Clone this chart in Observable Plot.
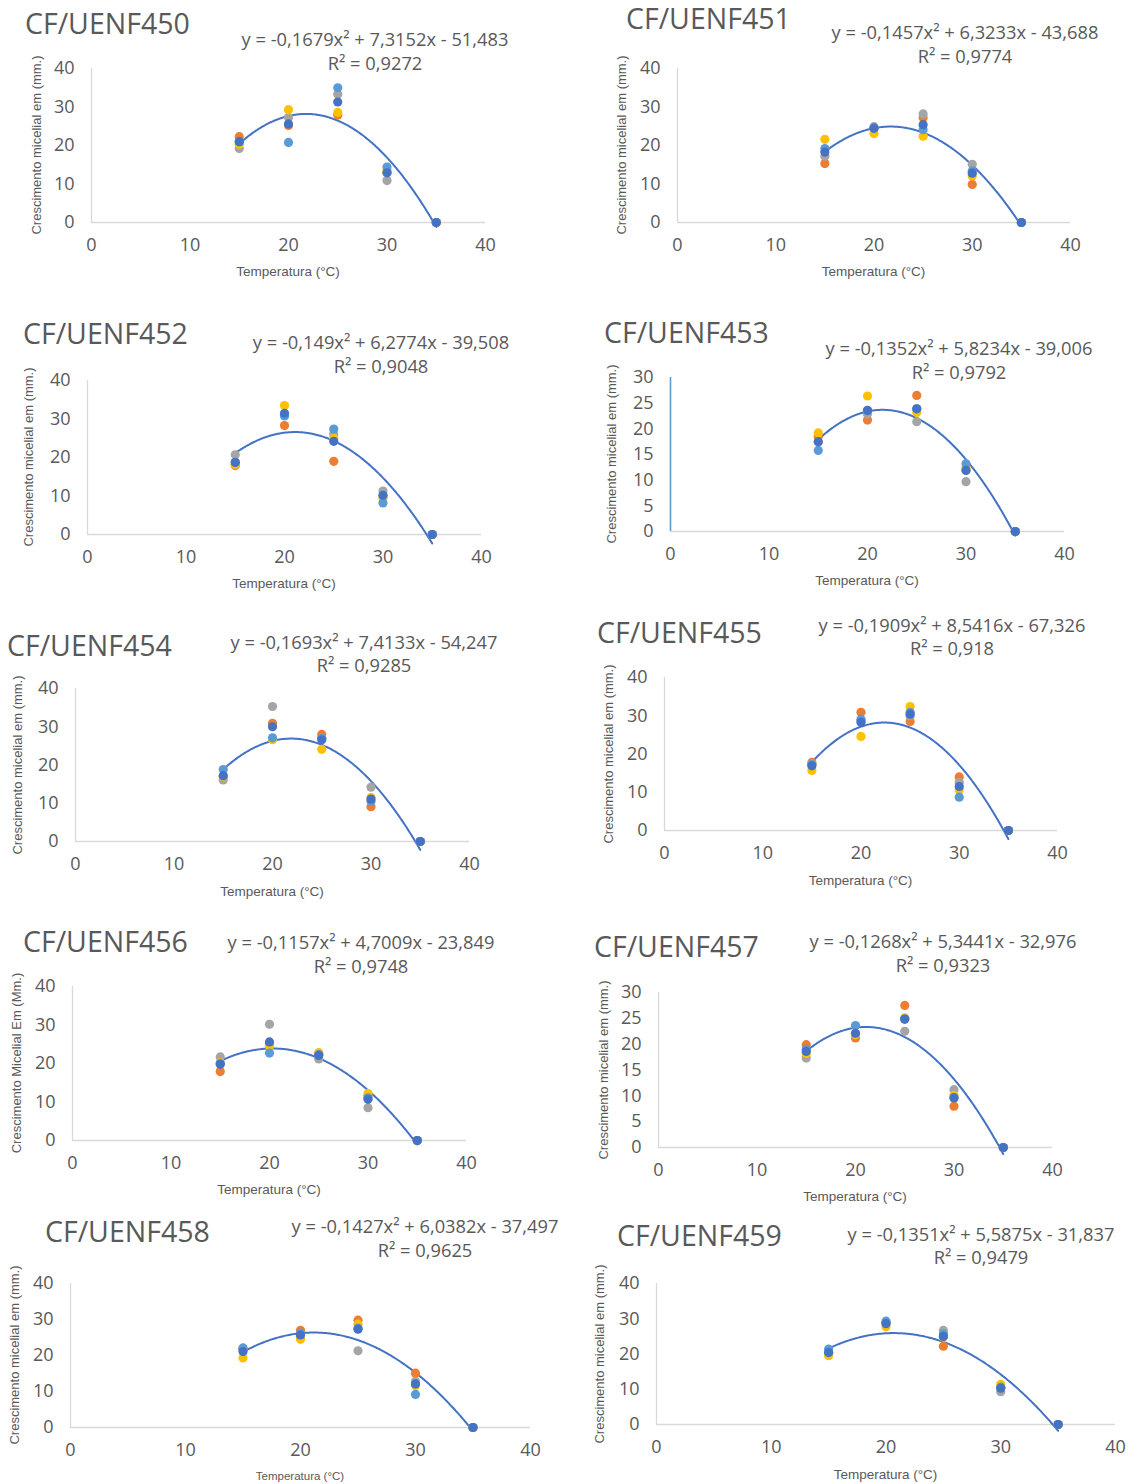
<!DOCTYPE html>
<html><head><meta charset="utf-8">
<script src="https://cdn.jsdelivr.net/npm/d3@7"></script>
<script src="https://cdn.jsdelivr.net/npm/@observablehq/plot@0.6"></script>
<style>
body{margin:0;background:#fff;}
#root{position:relative;width:1138px;height:1484px;overflow:hidden;background:#fff;}
.t{position:absolute;white-space:nowrap;color:#595959;line-height:1.25;}
.title{font-family:"Open Sans";font-size:28.5px;line-height:1;transform:translateY(-50%);}
.eq{font-family:"Open Sans";font-size:18.3px;transform:translate(-50%,-50%);}
.ylab{font-family:"Liberation Sans";font-size:13px;transform:translate(-50%,-50%) rotate(-90deg);}
.xlab{font-family:"Liberation Sans";font-size:13.5px;transform:translate(-50%,-50%);}
#root svg{position:absolute;overflow:visible;}
</style></head><body><div id="root"></div>
<script>
// ---- data ----
const temps = [15, 20, 25, 30, 35];
const seriesColors = ["#ED7D31", "#A5A5A5", "#FFC000", "#5B9BD5", "#4472C4"]; // drawn bottom -> top
const strains = ["CF/UENF450","CF/UENF451","CF/UENF452","CF/UENF453","CF/UENF454","CF/UENF455","CF/UENF456","CF/UENF457","CF/UENF458","CF/UENF459"];
const yMax = [40, 40, 40, 30, 40, 40, 40, 30, 40, 40];
const xTicks = [0, 10, 20, 30, 40];
const yTicks40 = [0, 10, 20, 30, 40];
const yTicks30 = [0, 5, 10, 15, 20, 25, 30];
const coefA = [-0.1679, -0.1457, -0.149, -0.1352, -0.1693, -0.1909, -0.1157, -0.1268, -0.1427, -0.1351];
const coefB = [7.3152, 6.3233, 6.2774, 5.8234, 7.4133, 8.5416, 4.7009, 5.3441, 6.0382, 5.5875];
const coefC = [-51.483, -43.688, -39.508, -39.006, -54.247, -67.326, -23.849, -32.976, -37.497, -31.837];
const equations = [
  "y = -0,1679x² + 7,3152x - 51,483",
  "y = -0,1457x² + 6,3233x - 43,688",
  "y = -0,149x² + 6,2774x - 39,508",
  "y = -0,1352x² + 5,8234x - 39,006",
  "y = -0,1693x² + 7,4133x - 54,247",
  "y = -0,1909x² + 8,5416x - 67,326",
  "y = -0,1157x² + 4,7009x - 23,849",
  "y = -0,1268x² + 5,3441x - 32,976",
  "y = -0,1427x² + 6,0382x - 37,497",
  "y = -0,1351x² + 5,5875x - 31,837"
];
const r2Labels = ["R² = 0,9272","R² = 0,9774","R² = 0,9048","R² = 0,9792","R² = 0,9285","R² = 0,918","R² = 0,9748","R² = 0,9323","R² = 0,9625","R² = 0,9479"];
const yLabels = ["Crescimento micelial em (mm.)","Crescimento micelial em (mm.)","Crescimento micelial em (mm.)","Crescimento micelial em (mm.)","Crescimento micelial em (mm.)","Crescimento micelial em (mm.)","Crescimento Micelial Em (Mm.)","Crescimento micelial em (mm.)","Crescimento micelial em (mm.)","Crescimento micelial em (mm.)"];
const xLabel = "Temperatura (°C)";
// series per strain: [orange, gray, yellow, light blue, blue] at temps
const uenf450 = [[22.3,25.2,27.9,13.0,0],[19.2,27.3,33.3,10.9,0],[20.3,29.3,28.6,13.5,0],[21.0,20.8,35.0,14.4,0],[21.0,25.6,31.3,12.9,0]];
const uenf451 = [[15.3,24.5,27.2,9.9,0],[17.2,24.9,28.2,15.1,0],[21.6,23.1,22.4,12.1,0],[19.2,24.5,24.1,13.4,0],[18.3,24.5,25.4,12.8,0]];
const uenf452 = [[17.9,28.3,19.0,10.0,0],[20.7,31.0,26.1,11.3,0],[18.2,33.5,25.0,9.5,0],[18.8,30.8,27.4,8.2,0],[18.7,31.5,24.2,10.2,0]];
const uenf453 = [[18.5,21.7,26.5,12.0,0],[17.5,22.9,21.4,9.7,0],[19.2,26.4,23.2,12.5,0],[15.8,23.5,23.9,13.2,0],[17.5,23.6,23.9,11.9,0]];
const uenf454 = [[17.0,30.9,28.0,9.1,0],[16.1,35.3,27.0,14.2,0],[17.0,26.6,24.1,11.5,0],[18.8,27.1,27.0,10.5,0],[17.2,30.0,26.6,11.1,0]];
const uenf455 = [[17.8,30.9,28.5,14.0,0],[17.4,28.7,30.0,12.6,0],[15.7,24.6,32.4,10.6,0],[17.2,29.1,30.9,8.7,0],[16.9,28.3,30.4,11.5,0]];
const uenf456 = [[17.9,25.0,22.5,11.7,0],[21.7,30.2,21.2,8.5,0],[20.2,24.5,22.8,12.2,0],[20.0,22.7,22.3,11.1,0],[19.8,25.6,22.1,10.7,0]];
const uenf457 = [[19.9,21.2,27.5,8.0,0],[17.3,22.0,22.5,11.2,0],[18.2,21.8,25.1,10.1,0],[19.0,23.6,24.9,9.7,0],[18.6,22.1,24.8,9.6,0]];
const uenf458 = [[21.8,27.0,29.8,15.1,0],[21.9,25.2,21.3,12.8,0],[19.3,24.5,28.7,11.7,0],[22.1,26.2,27.6,9.2,0],[21.1,25.7,27.3,12.1,0]];
const uenf459 = [[20.0,28.7,22.2,10.5,0],[20.5,28.9,26.7,9.3,0],[19.5,27.7,24.8,11.4,0],[21.4,29.3,25.7,10.6,0],[20.4,28.6,25.0,10.3,0]];
const allData = [uenf450,uenf451,uenf452,uenf453,uenf454,uenf455,uenf456,uenf457,uenf458,uenf459];

// ---- layout (page pixels) ----
const layout = [
  {x0:91,  x40:485,  yTop:68,   y0:222,  tx:25,  ty:23,   ex:375, ey1:39,   ey2:63,   ylx:37,  xly:272,  xls:13.5},
  {x0:677, x40:1070, yTop:68,   y0:222,  tx:626, ty:18,   ex:965, ey1:32,   ey2:56,   ylx:622, xly:272,  xls:13.5},
  {x0:87,  x40:481,  yTop:380,  y0:534,  tx:23,  ty:333,  ex:381, ey1:342,  ey2:366,  ylx:29,  xly:584,  xls:13.5},
  {x0:670, x40:1064, yTop:377,  y0:531,  tx:604, ty:332,  ex:959, ey1:348,  ey2:372,  ylx:612, xly:581,  xls:13.5},
  {x0:75,  x40:469,  yTop:688,  y0:841,  tx:7,   ty:645,  ex:364, ey1:642,  ey2:665,  ylx:18,  xly:892,  xls:13.5},
  {x0:664, x40:1057, yTop:677,  y0:830,  tx:597, ty:632,  ex:952, ey1:625,  ey2:648,  ylx:609, xly:881,  xls:13.5},
  {x0:72,  x40:466,  yTop:986,  y0:1140, tx:23,  ty:941,  ex:361, ey1:942,  ey2:966,  ylx:17,  xly:1190, xls:13.5},
  {x0:658, x40:1052, yTop:992,  y0:1147, tx:594, ty:946,  ex:943, ey1:941,  ey2:965,  ylx:604, xly:1197, xls:13.5},
  {x0:70,  x40:530,  yTop:1283, y0:1427, tx:45,  ty:1231, ex:425, ey1:1226, ey2:1250, ylx:15,  xly:1476, xls:11.5},
  {x0:656, x40:1115, yTop:1283, y0:1424, tx:617, ty:1235, ex:981, ey1:1234, ey2:1257, ylx:600, xly:1475, xls:13.5}
];

const root = document.getElementById("root");
function addText(cls, txt, left, top, extra) {
  const d = document.createElement("div");
  d.className = "t " + cls;
  d.textContent = txt;
  d.style.left = left + "px";
  d.style.top = top + "px";
  if (extra) Object.assign(d.style, extra);
  root.appendChild(d);
}

strains.forEach((name, i) => {
  const g = layout[i];
  const mL = 60, mR = 15, mT = 15, mB = 40;
  const w = g.x40 - g.x0 + mL + mR;
  const h = g.y0 - g.yTop + mT + mB;
  const series = allData[i].map((vals) => vals.map((v, k) => ({t: temps[k], v})));
  const xs = d3.range(150, 351).map(k => k / 10);
  const trend = xs.map(x => ({x, y: coefA[i] * x * x + coefB[i] * x + coefC[i]}));
  const chart = Plot.plot({
    width: w, height: h,
    marginLeft: mL, marginRight: mR, marginTop: mT, marginBottom: mB,
    style: {fontFamily: "Open Sans", fontSize: "18px", color: "#595959", background: "transparent", overflow: "visible"},
    x: {domain: [0, 40]},
    y: {domain: [0, yMax[i]]},
    marks: [
      Plot.axisX(xTicks, {tickSize: 0, tickPadding: 16, label: null, fontSize: 18}),
      Plot.axisY(yMax[i] === 30 ? yTicks30 : yTicks40, {tickSize: 0, tickPadding: 17, label: null, fontSize: 18}),
      Plot.ruleY([0], {stroke: "#D9D9D9", strokeWidth: 1.3}),
      Plot.ruleX([0], {stroke: i === 3 ? "#5B9BD5" : "#D9D9D9", strokeWidth: i === 3 ? 1.6 : 1.3}),
      Plot.line(trend, {x: "x", y: "y", stroke: "#4472C4", strokeWidth: 2}),
      ...series.map((pts, s) => Plot.dot(pts, {x: "t", y: "v", fill: seriesColors[s], r: 4.6}))
    ]
  });
  chart.style.left = (g.x0 - mL) + "px";
  chart.style.top = (g.yTop - mT) + "px";
  root.appendChild(chart);
  addText("title", name, g.tx, g.ty);
  addText("eq", equations[i], g.ex, g.ey1);
  addText("eq", r2Labels[i], g.ex, g.ey2);
  addText("ylab", yLabels[i], g.ylx, (g.yTop + g.y0) / 2);
  addText("xlab", xLabel, (g.x0 + g.x40) / 2, g.xly, {fontSize: g.xls + "px"});
});
</script>
</body></html>
